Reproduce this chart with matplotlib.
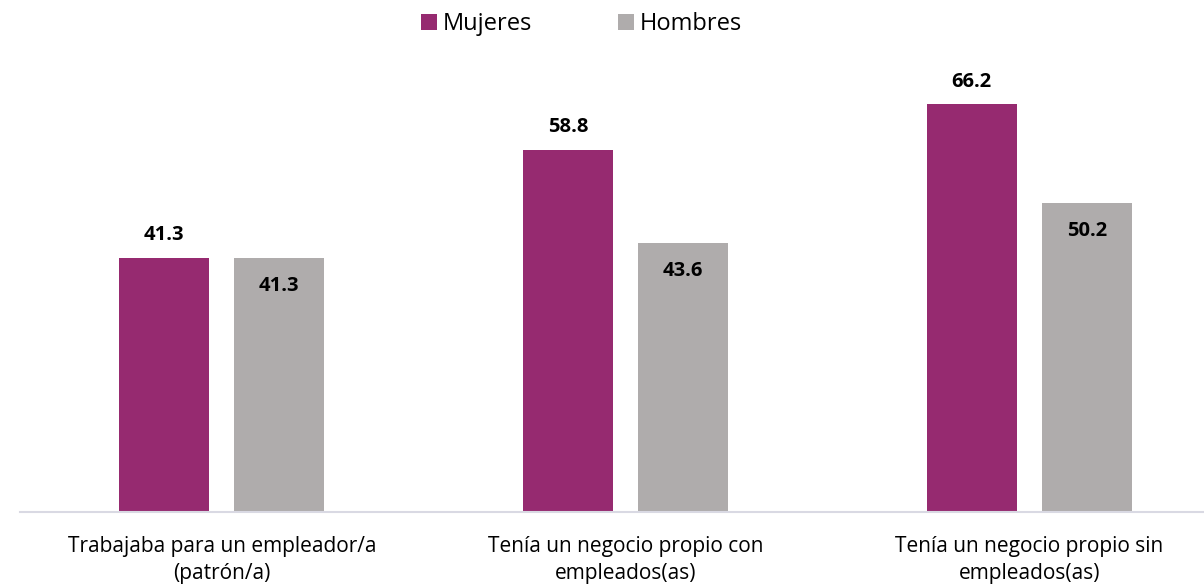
import matplotlib.pyplot as plt
import numpy as np

categories = ['Trabajaba para un empleador/a\n(patrón/a)',
              'Tenía un negocio propio con\nempleados(as)',
              'Tenía un negocio propio sin\nempleados(as)']
mujeres = [41.3, 58.8, 66.2]
hombres = [41.3, 43.6, 50.2]

c_muj = '#962A70'
c_hom = '#AFACAC'

plt.rcParams['font.family'] = ['Open Sans', 'DejaVu Sans']

fig = plt.figure(figsize=(12.04, 5.84), dpi=100)
ax = fig.add_axes([20 / 1204, 72 / 584, 1 - 20 / 1204, (512 - 50) / 584])

x = np.arange(len(categories))
w = 0.223
off = 0.1425
b1 = ax.bar(x - off, mujeres, w, color=c_muj, label='Mujeres')
b2 = ax.bar(x + off, hombres, w, color=c_hom, label='Hombres')

for r, v in zip(b1, mujeres):
    ax.annotate(f'{v:.1f}', (r.get_x() + r.get_width() / 2, v), xytext=(0, 9),
                textcoords='offset points', ha='center', va='bottom',
                fontsize=14.5, fontweight='bold')
for r, v in zip(b2, hombres):
    ax.annotate(f'{v:.1f}', (r.get_x() + r.get_width() / 2, v), xytext=(0, -13),
                textcoords='offset points', ha='center', va='top',
                fontsize=14.5, fontweight='bold')

ax.set_xlim(-0.5, 2.433)
ax.set_ylim(0, 75)
ax.set_xticks(x)
ax.set_xticklabels(categories, fontsize=15, linespacing=1.4)
ax.tick_params(axis='x', length=0, pad=17)
ax.set_yticks([])
for s in ['top', 'right', 'left']:
    ax.spines[s].set_visible(False)
ax.spines['bottom'].set_color('#D9D9E3')
ax.spines['bottom'].set_linewidth(1.5)

fig.legend(loc='upper center', bbox_to_anchor=(0.483, 1.015), ncol=2, frameon=False,
           fontsize=17, handlelength=0.7, handleheight=0.7, handletextpad=0.25,
           columnspacing=3.6)

fig.savefig('out.png', dpi=100)
